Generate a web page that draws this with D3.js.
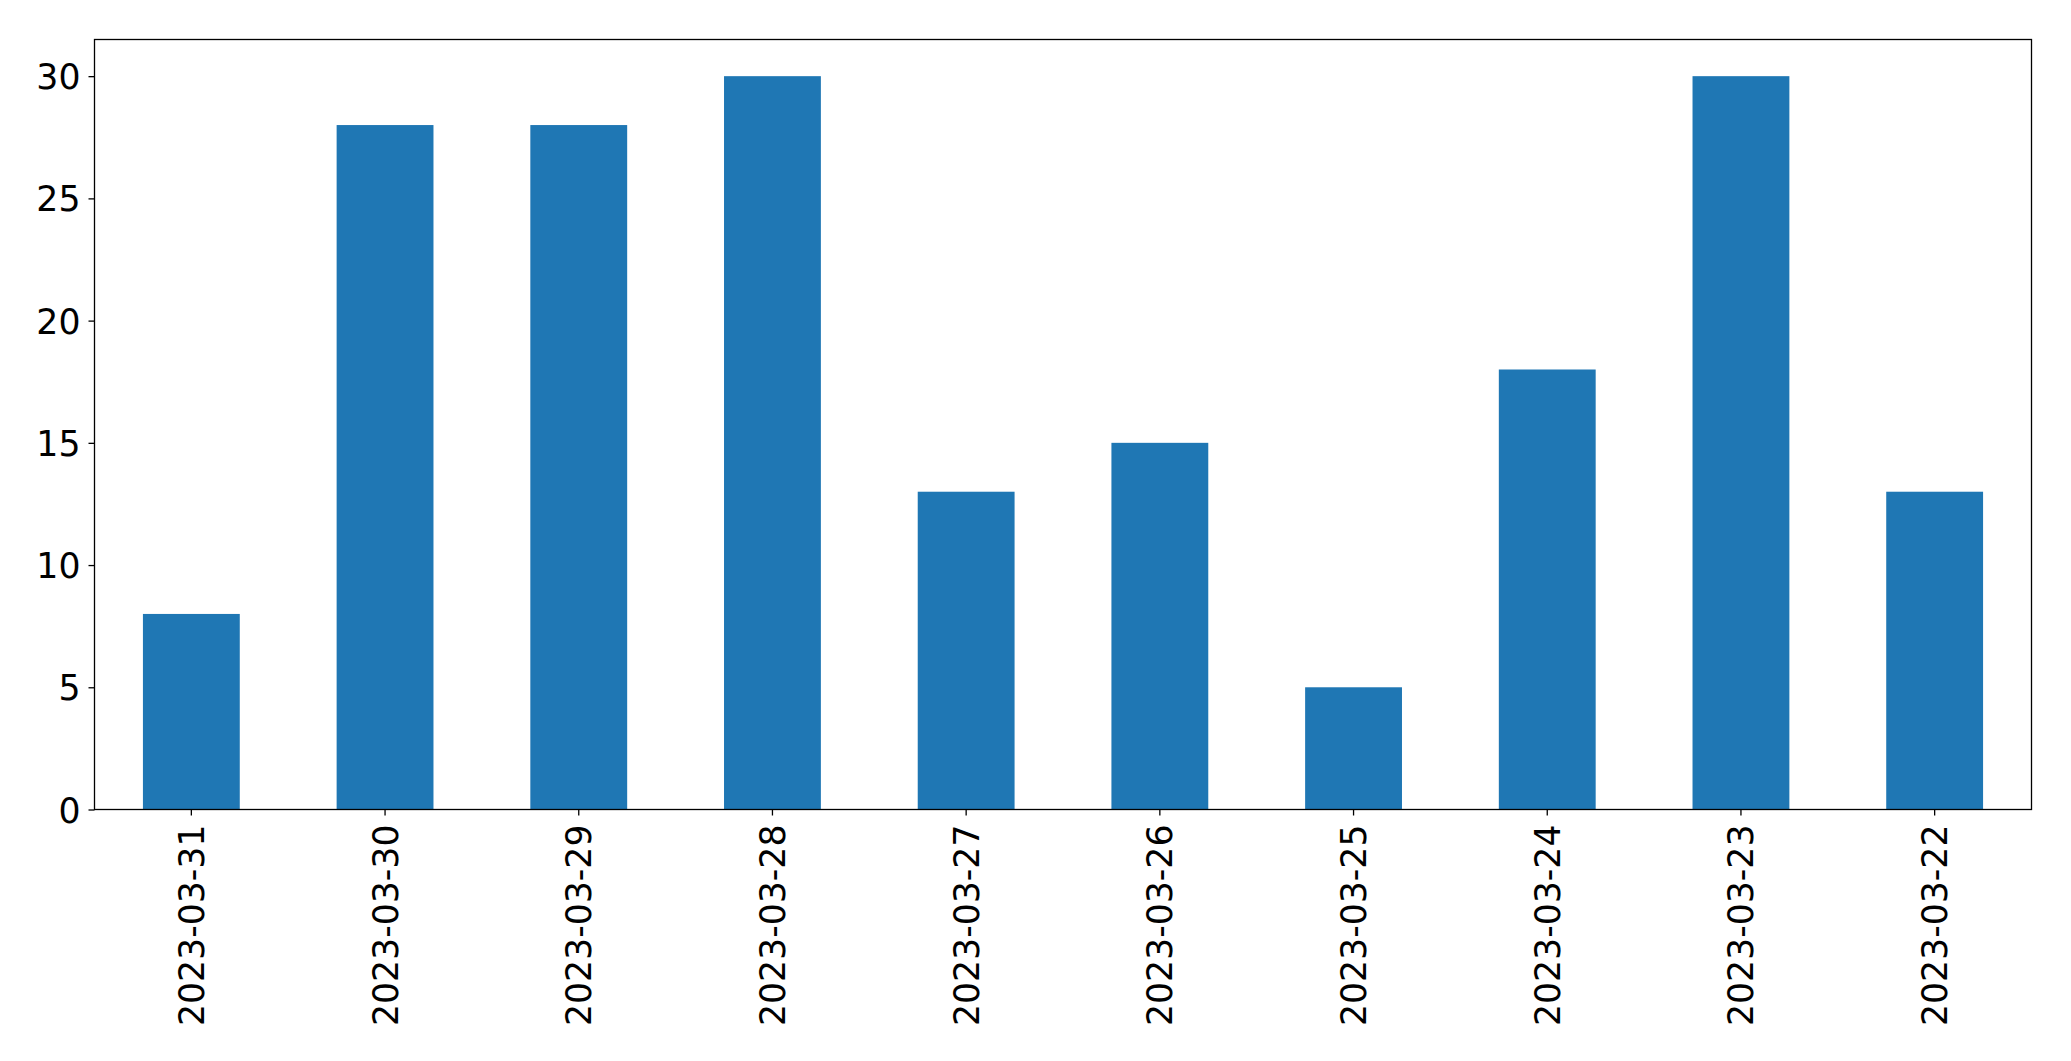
<!DOCTYPE html>
<html>
<head>
<meta charset="utf-8">
<script src="https://cdn.jsdelivr.net/npm/d3@7"></script>
<style>
  body { margin: 0; background: #fff; }
  text { font-family: "DejaVu Sans", sans-serif; }
</style>
</head>
<body>
<script>
var dates = ['2023-03-31', '2023-03-30', '2023-03-29', '2023-03-28', '2023-03-27',
             '2023-03-26', '2023-03-25', '2023-03-24', '2023-03-23', '2023-03-22'];
var counts = [8, 28, 28, 30, 13, 15, 5, 18, 30, 13];
var yTicks = [0, 5, 10, 15, 20, 25, 30];

var width = 2071, height = 1061;
var plotLeft = 94.5, plotRight = 2031.5, plotTop = 39.5, plotBottom = 809.5;
var fontSize = 34.7;

var svg = d3.select('body')
    .append('svg')
    .attr('width', width)
    .attr('height', height);

var x = d3.scaleBand()
    .domain(dates)
    .range([plotLeft, plotRight])
    .paddingInner(0.5)
    .paddingOuter(0.25);

var y = d3.scaleLinear()
    .domain([0, 31.5])
    .range([plotBottom, plotTop]);

svg.selectAll('rect.bar')
    .data(dates)
    .enter()
    .append('rect')
    .attr('class', 'bar')
    .attr('x', d => x(d))
    .attr('width', x.bandwidth())
    .attr('y', (d, i) => y(counts[i]))
    .attr('height', (d, i) => y(0) - y(counts[i]))
    .attr('fill', '#1f77b4');

// frame
svg.append('rect')
    .attr('x', plotLeft)
    .attr('y', plotTop)
    .attr('width', plotRight - plotLeft)
    .attr('height', plotBottom - plotTop)
    .attr('fill', 'none')
    .attr('stroke', '#000')
    .attr('stroke-width', 1.3);

var yAxis = svg.append('g')
    .attr('transform', `translate(${plotLeft},0)`)
    .call(d3.axisLeft(y).tickValues(yTicks).tickSize(6).tickPadding(8));
yAxis.select('.domain').remove();
yAxis.selectAll('text')
    .attr('font-size', fontSize)
    .attr('fill', '#000')
    .attr('font-family', '"DejaVu Sans", sans-serif')
    .attr('dy', '0.36em');
yAxis.selectAll('line').attr('stroke-width', 1.3);

var xAxis = svg.append('g')
    .attr('transform', `translate(0,${plotBottom})`)
    .call(d3.axisBottom(x).tickSize(6).tickPadding(0));
xAxis.select('.domain').remove();
xAxis.selectAll('line').attr('stroke-width', 1.3);
xAxis.selectAll('text')
    .attr('font-size', fontSize)
    .attr('fill', '#000')
    .attr('font-family', '"DejaVu Sans", sans-serif')
    .attr('text-anchor', 'end')
    .attr('y', 0)
    .attr('dy', null)
    .attr('transform', 'translate(12.5,15) rotate(-90)');
</script>
</body>
</html>
